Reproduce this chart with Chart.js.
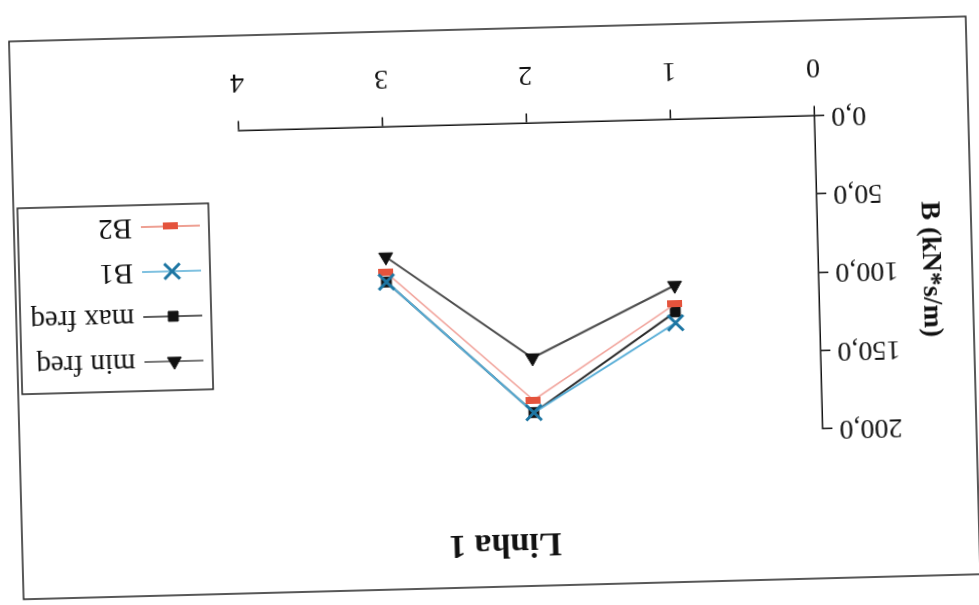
<!DOCTYPE html>
<html>
<head>
<meta charset="utf-8">
<title>Linha 1</title>
<script src="https://cdn.jsdelivr.net/npm/chart.js@4.4.0/dist/chart.umd.min.js"></script>
<style>
  html,body{margin:0;padding:0;background:#fff;overflow:hidden;}
  /* the scanned page is upside down and a little skewed */
  #wrap{position:absolute;left:0;top:0;width:979px;height:605px;transform:rotate(178.5deg);transform-origin:50% 50%;}
  #c{display:block;width:979px;height:605px;}
</style>
</head>
<body>
<div id="wrap"><canvas id="c" width="979" height="605"></canvas></div>
<script>
/* Linha 1 — B (kN*s/m) per point */
const xValues=[1,2,3];
const xTickLabels=['0','1','2','3','4'];
const yTickLabels=['0,0','50,0','100,0','150,0','200,0'];
const seriesNames=['min freq','max freq','B1','B2'];
const minFreq=[106,150,83];
const maxFreq=[123,185,99];
const b1=[130,185,99];
const b2=[118,177,93];

(function(){
  const SERIF="'Liberation Serif','Times New Roman',serif";
  Chart.defaults.font.family=SERIF;
  Chart.defaults.color='#111';

  function pts(vals){return vals.map(function(v,i){return {x:xValues[i],y:v};});}
  function barMarker(w,h,col){const c=document.createElement('canvas');c.width=w;c.height=h;const g=c.getContext('2d');g.fillStyle=col;g.fillRect(0,0,w,h);return c;}

  const datasets=[
    {label:seriesNames[0],data:pts(minFreq),borderColor:'#4d4d4d',borderWidth:2,pointStyle:'triangle',pointRadius:8,
      pointBackgroundColor:'#111',pointBorderColor:'#111',pointBorderWidth:1,order:3},
    {label:seriesNames[1],data:pts(maxFreq),borderColor:'#2a2a2a',borderWidth:2,pointStyle:'rect',pointRadius:7,
      pointBackgroundColor:'#111',pointBorderColor:'#111',pointBorderWidth:1,order:2},
    {label:seriesNames[2],data:pts(b1),borderColor:'#55acd6',borderWidth:2,pointStyle:'crossRot',pointRadius:11,
      pointBackgroundColor:'#1d76a3',pointBorderColor:'#1d76a3',pointBorderWidth:3,order:0},
    {label:seriesNames[3],data:pts(b2),borderColor:'#f1a39b',borderWidth:1.5,pointStyle:barMarker(15,7,'#e4533c'),pointRadius:7,
      pointBackgroundColor:'#e4533c',pointBorderColor:'#e4533c',pointBorderWidth:0,legendLine:'#e8806f',order:1}
  ];

  // outer frame of the chart object
  const framePlugin={id:'frame',afterDraw:function(chart){
    const ctx=chart.ctx;ctx.save();ctx.strokeStyle='#222';ctx.lineWidth=1.5;
    ctx.strokeRect(6,18,957,558);ctx.restore();}};

  // boxed legend: line sample with marker, then name
  const boxLegend={id:'boxLegend',afterDraw:function(chart){
    const ctx=chart.ctx;const box={x:768,y:223,w:191,h:186};const first=252,step=45;
    ctx.save();ctx.strokeStyle='#222';ctx.lineWidth=1.5;ctx.strokeRect(box.x,box.y,box.w,box.h);
    chart.data.datasets.forEach(function(ds,i){
      const y=first+i*step;
      ctx.strokeStyle=ds.legendLine||ds.borderColor;ctx.lineWidth=1.5;
      ctx.beginPath();ctx.moveTo(777,y);ctx.lineTo(836,y);ctx.stroke();
      ctx.fillStyle=ds.pointBackgroundColor;ctx.strokeStyle=ds.pointBorderColor;ctx.lineWidth=ds.pointBorderWidth;
      Chart.helpers.drawPoint(ctx,{pointStyle:ds.pointStyle,radius:ds.pointRadius,rotation:0,borderWidth:ds.pointBorderWidth},806,y);
      ctx.fillStyle='#111';ctx.font='29px '+SERIF;ctx.textAlign='left';ctx.textBaseline='middle';
      ctx.fillText(ds.label,845,y);
    });
    ctx.restore();}};

  new Chart(document.getElementById('c'),{
    type:'line',
    data:{datasets:datasets},
    options:{responsive:false,animation:false,devicePixelRatio:1,
      layout:{padding:{left:0,right:19,top:0,bottom:0}},
      scales:{
        x:{type:'linear',min:0,max:4,position:'bottom',
          ticks:{stepSize:1,padding:22,color:'#111',font:{size:28},callback:function(v){return xTickLabels[v];}},
          grid:{drawOnChartArea:false,drawTicks:true,tickLength:10,color:'#111',lineWidth:1.5},
          border:{color:'#111',width:1.5},
          afterFit:function(s){s.height=124.5;}},
        y:{type:'linear',min:0,max:200,position:'left',
          ticks:{stepSize:50,padding:7,color:'#111',font:{size:28},callback:function(v){return yTickLabels[v/50];}},
          grid:{drawOnChartArea:false,drawTicks:true,tickLength:10,color:'#111',lineWidth:1.5},
          border:{color:'#111',width:1.5},
          title:{display:true,text:'B (kN*s/m)',color:'#111',font:{size:28,weight:'bold'},padding:{top:31,bottom:0}},
          afterFit:function(s){s.width=160;}},
        y2:{type:'linear',min:0,max:1,position:'right',
          ticks:{display:false},grid:{display:false},border:{display:false},
          afterFit:function(s){s.width=224;}}
      },
      plugins:{
        legend:{display:false},tooltip:{enabled:false},
        title:{display:true,text:'Linha 1',color:'#111',font:{size:34,weight:'bold'},padding:{top:41,bottom:86}}
      }},
    plugins:[framePlugin,boxLegend]
  });
})();
</script>
</body>
</html>
